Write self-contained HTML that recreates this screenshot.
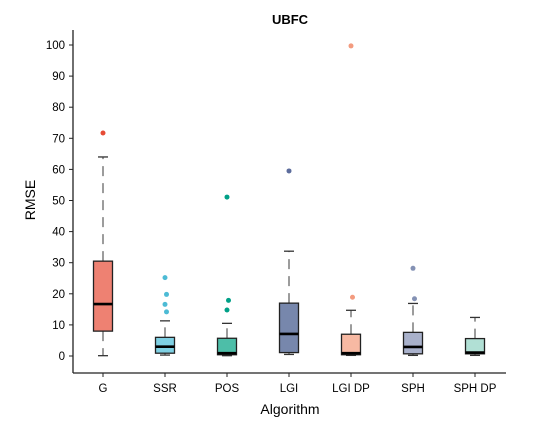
<!DOCTYPE html>
<html><head><meta charset="utf-8"><style>
body{margin:0;background:#fff;}
svg text{font-family:"Liberation Sans",Arial,sans-serif;}
</style></head><body>
<svg id="chart" width="560" height="420" xmlns="http://www.w3.org/2000/svg">
<text x="290" y="24" text-anchor="middle" font-size="13" font-weight="bold">UBFC</text>
<text transform="translate(35,200) rotate(-90)" text-anchor="middle" font-size="14">RMSE</text>
<text x="290" y="414" text-anchor="middle" font-size="14">Algorithm</text>
<g id="axes"></g>
<g id="marks"></g>
</svg>
<script>
const categories = ["G","SSR","POS","LGI","LGI DP","SPH","SPH DP"];
const q1 = [8, 0.9, 0.4, 1.1, 0.4, 0.7, 0.7];
const medians = [16.7, 3, 0.9, 7.1, 0.9, 2.9, 1.1];
const q3 = [30.5, 6, 5.7, 17, 7, 7.6, 5.6];
const whiskLow = [0.1, 0.3, 0.1, 0.5, 0.2, 0.2, 0.2];
const whiskHigh = [64, 11.3, 10.5, 33.7, 14.7, 16.9, 12.4];
const outliers = [[71.7],[25.2,19.8,16.6,14.2],[51.1,17.9,14.8],[59.5],[99.7,18.9],[28.2,18.4],[]];
const yTicks = [0,10,20,30,40,50,60,70,80,90,100];
const fills = ["#ee8172","#7fd0e3","#4dbea8","#7787ac","#f7b9a3","#a9b1cb","#b1e0d5"];
const dots = ["#e64b35","#4dbbd5","#00a087","#5c6c9c","#f39b7f","#8491b4","#91d1c2"];

const NS="http://www.w3.org/2000/svg";
const y = v => 356 - v*3.11;
const x = i => 103 + i*62;
function mk(tag, attrs, parent){const e=document.createElementNS(NS,tag);for(const k in attrs)e.setAttribute(k,attrs[k]);parent.appendChild(e);return e;}
const axes=document.getElementById('axes'), marks=document.getElementById('marks');

let e=mk('line',{x1:73,y1:30,x2:73,y2:373,stroke:'#222','stroke-width':1.3},axes);


e=mk('line',{x1:73,y1:373,x2:506,y2:373,stroke:'#222','stroke-width':1.3},axes);


yTicks.forEach(t=>{
  let l=mk('line',{x1:69,x2:73,y1:y(t),y2:y(t),stroke:'#222'},axes);
  
  
  let tx=mk('text',{x:65,y:y(t)+4,'text-anchor':'end','font-size':11.5},axes);
  tx.textContent=t;
  
  
});
categories.forEach((c,i)=>{
  const cx=x(i);
  let l=mk('line',{x1:cx,x2:cx,y1:373,y2:377,stroke:'#222'},axes);
  
  
  let tx=mk('text',{x:cx,y:392,'text-anchor':'middle','font-size':11.5},axes);
  tx.textContent=c;
  
  
  const g=mk('g',{},marks);
  
  
  mk('line',{x1:cx,x2:cx,y1:y(q3[i]),y2:y(whiskHigh[i]),stroke:'#666','stroke-width':1.3,'stroke-dasharray':'10,7'},g);
  mk('line',{x1:cx,x2:cx,y1:y(q1[i]),y2:y(whiskLow[i]),stroke:'#666','stroke-width':1.3,'stroke-dasharray':'10,7'},g);
  mk('line',{x1:cx-5,x2:cx+5,y1:y(whiskHigh[i]),y2:y(whiskHigh[i]),stroke:'#333','stroke-width':1.3},g);
  mk('line',{x1:cx-5,x2:cx+5,y1:y(whiskLow[i]),y2:y(whiskLow[i]),stroke:'#333','stroke-width':1.3},g);
  mk('rect',{x:cx-9.5,y:y(q3[i]),width:19,height:y(q1[i])-y(q3[i]),fill:fills[i],stroke:'#222','stroke-width':1.3},g);
  mk('line',{x1:cx-9.5,x2:cx+9.5,y1:y(medians[i]),y2:y(medians[i]),stroke:'#000','stroke-width':2.6},g);
  outliers[i].forEach((o,j)=>{
    let d=mk('circle',{cx:cx+(j%2?1.5:0),cy:y(o),r:2.5,fill:dots[i]},marks);
    
    
  });
});
</script>
</body></html>
